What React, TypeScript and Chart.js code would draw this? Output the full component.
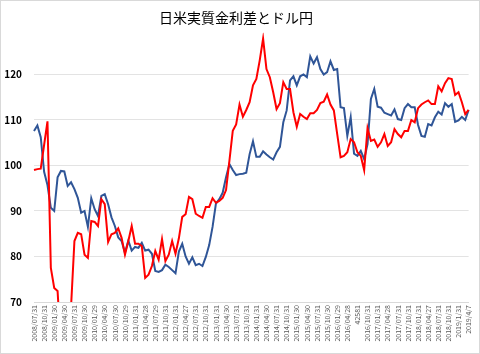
import React, { useEffect, useRef } from 'react';
import { Chart, registerables } from 'chart.js';

Chart.register(...registerables);

const title = '日米実質金利差とドル円';

const tickLabels = [
  '2008/07/31', '2008/10/31', '2009/01/30', '2009/04/30', '2009/07/31', '2009/10/30',
  '2010/01/29', '2010/04/30', '2010/07/30', '2010/10/29', '2011/01/31', '2011/04/28',
  '2011/07/29', '2011/10/31', '2012/01/31', '2012/04/27', '2012/07/31', '2012/10/31',
  '2013/01/31', '2013/04/30', '2013/07/31', '2013/10/31', '2014/01/31', '2014/04/30',
  '2014/07/31', '2014/10/31', '2015/01/30', '2015/04/30', '2015/07/31', '2015/10/30',
  '2016/01/29', '2016/04/28', '42581', '2016/10/31', '2017/01/31', '2017/04/28',
  '2017/07/31', '2017/10/31', '2018/01/31', '2018/04/27', '2018/07/31', '2018/10/31',
  '2019/1/31', '2019/4/7',
];

// ドル円 (monthly, 2008/07 - 2019/04)
const usdJpy = [
  107.6, 108.8, 106.2, 98.6, 95.7, 90.7,
  90.0, 97.4, 98.8, 98.7, 95.5, 96.3, 94.8, 92.9, 89.6, 90.0, 86.5, 92.8,
  90.4, 88.9, 93.3, 93.7, 91.5, 88.6, 86.7, 84.2, 83.4, 80.8, 83.5, 81.3,
  82.1, 81.9, 83.0, 81.3, 81.5, 80.6, 76.8, 76.6, 77.0, 78.2, 77.7, 77.0,
  76.3, 81.1, 82.8, 80.0, 78.4, 79.8, 78.1, 78.4, 77.9, 79.9, 82.5, 86.5,
  91.6, 92.6, 94.0, 97.4, 100.3, 99.0, 97.9, 98.1, 98.2, 98.4, 102.5, 105.3,
  101.9, 101.9, 103.1, 102.4, 101.8, 101.3, 102.9, 104.1, 109.5, 112.1, 118.7, 119.6,
  117.6, 119.6, 120.0, 119.4, 124.0, 122.4, 123.8, 121.2, 120.0, 120.5, 122.9, 121.0,
  121.2, 112.8, 112.6, 106.5, 110.6, 102.6, 102.1, 103.2, 101.4, 104.7, 114.6, 116.8,
  112.9, 112.7, 111.6, 111.3, 111.0, 112.3, 110.2, 110.0, 112.6, 113.5, 112.8, 112.8,
  108.9, 106.5, 106.3, 109.1, 108.8, 110.6, 111.8, 111.2, 113.7, 112.9, 113.5, 109.6,
  109.9, 110.7, 110.0, 112.2,
];

// 日米実質金利差 (scaled to the same axis)
const rateDiff = [
  99.0, 99.2, 99.3, 104.5, 109.7, 77.5,
  73.1, 72.4, 60.0, 58.0, 60.0, 69.0, 83.4, 85.2, 84.9, 80.4, 79.7, 87.8,
  87.6, 86.7, 92.6, 91.5, 83.2, 84.9, 85.2, 86.2, 84.1, 80.4, 83.4, 86.7,
  82.8, 82.8, 82.3, 75.3, 76.0, 77.9, 81.2, 79.3, 83.8, 79.0, 80.4, 83.4,
  80.6, 84.0, 88.7, 89.3, 93.1, 92.6, 89.4, 88.9, 88.5, 90.9, 90.9, 92.8,
  91.8, 92.2, 92.9, 94.6, 101.0, 107.6, 109.0, 113.4, 110.7, 112.2, 113.9, 117.6,
  119.0, 123.1, 127.9, 121.2, 119.4, 116.1, 112.4, 113.7, 118.3, 116.8, 116.8, 111.7,
  108.5, 111.3, 110.7, 110.2, 111.5, 111.5, 112.2, 113.7, 114.0, 115.6, 113.4, 112.1,
  106.9, 101.8, 102.1, 102.9, 105.8, 105.1, 102.9, 102.1, 99.0, 108.2, 105.4, 105.7,
  104.1, 105.1, 106.9, 104.3, 105.1, 108.0, 106.9, 106.2, 107.6, 107.6, 110.0, 109.5,
  112.6, 113.4, 113.9, 114.3, 113.5, 113.5, 117.4, 116.3, 118.1, 119.2, 119.0, 115.5,
  116.1, 113.9, 111.3, 112.2,
];

const yTicks = [70, 80, 90, 100, 110, 120];
const yMin = 70;
const yMax = 128.5;

const categories = usdJpy.map((_, i) => (i % 3 === 0 ? tickLabels[i / 3] : ''));

const frame = {
  id: 'frame',
  beforeDraw(chart: any) {
    const { ctx, width, height } = chart;
    ctx.save();
    ctx.fillStyle = '#ffffff';
    ctx.fillRect(0, 0, width, height);
    ctx.strokeStyle = '#d9d9d9';
    ctx.lineWidth = 1;
    ctx.strokeRect(0.5, 0.5, width - 1, height - 1);
    ctx.restore();
  },
};

export default function App() {
  const ref = useRef<HTMLCanvasElement | null>(null);

  useEffect(() => {
    document.body.style.margin = '0';
    const canvas = ref.current;
    if (!canvas) return;
    const chart = new Chart(canvas, {
      type: 'line',
      data: {
        labels: categories,
        datasets: [
          {
            label: '日米実質金利差',
            data: rateDiff,
            borderColor: '#ff0000',
            backgroundColor: '#ff0000',
            borderWidth: 2,
            pointRadius: 0,
            tension: 0,
            clip: { left: 3, right: 3, top: 3, bottom: 0 } as any,
          },
          {
            label: 'ドル円',
            data: usdJpy,
            borderColor: '#2f5597',
            backgroundColor: '#2f5597',
            borderWidth: 2,
            pointRadius: 0,
            tension: 0,
            clip: { left: 3, right: 3, top: 3, bottom: 0 } as any,
          },
        ],
      },
      options: {
        responsive: false,
        animation: false,
        devicePixelRatio: 1,
        layout: { padding: { left: 0, right: 8, top: 0, bottom: 0 } },
        plugins: {
          legend: { display: false },
          tooltip: { enabled: false },
          title: {
            display: true,
            text: title,
            color: '#000000',
            font: { family: "'Noto Sans CJK JP'", size: 14, weight: 'normal' },
            padding: { top: 9, bottom: 10 },
          },
        },
        scales: {
          x: {
            type: 'category',
            offset: false,
            grid: { display: false, drawTicks: false },
            border: { display: true, color: '#d9d9d9' },
            ticks: {
              autoSkip: false,
              minRotation: 90,
              maxRotation: 90,
              padding: 3,
              color: '#595959',
              font: { family: "'Noto Sans CJK JP'", size: 7 },
            },
            afterFit: (scale: any) => {
              scale.height = 52;
            },
          },
          y: {
            min: yMin,
            max: yMax,
            grid: { color: '#e3e3e3', drawTicks: false },
            border: { display: false },
            ticks: {
              padding: 12,
              color: '#000000',
              font: { family: "'Noto Sans CJK JP'", size: 10, weight: 'bold' },
            },
            afterBuildTicks: (scale: any) => {
              scale.ticks = yTicks.map((v) => ({ value: v }));
            },
            afterFit: (scale: any) => {
              scale.width = 34;
            },
          },
        },
      },
      plugins: [frame],
    });
    return () => chart.destroy();
  }, []);

  return (
    <div style={{ position: 'absolute', left: 0, top: 0, width: 480, height: 354 }}>
      <canvas ref={ref} width={480} height={354} />
    </div>
  );
}
